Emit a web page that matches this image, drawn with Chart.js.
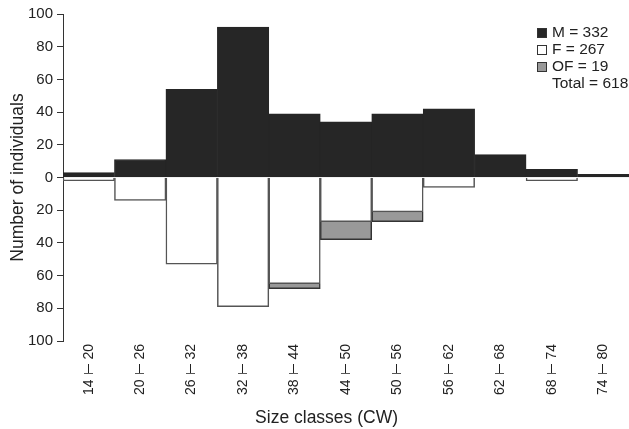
<!DOCTYPE html>
<html>
<head>
<meta charset="utf-8">
<script src="https://cdn.jsdelivr.net/npm/chart.js@4.4.1/dist/chart.umd.min.js"></script>
<style>
  html, body { margin: 0; padding: 0; background: #fff; }
  #wrap { width: 629px; height: 429px; }
</style>
</head>
<body>
<div id="wrap"><canvas id="chart" width="629" height="429"></canvas></div>
<script>
const sizeLabels = ['14 ⊢ 20', '20 ⊢ 26', '26 ⊢ 32', '32 ⊢ 38', '38 ⊢ 44', '44 ⊢ 50', '50 ⊢ 56', '56 ⊢ 62', '62 ⊢ 68', '68 ⊢ 74', '74 ⊢ 80'];
const males = [3, 11, 54, 92, 39, 34, 39, 42, 14, 5, 2];
const females = [2, 14, 53, 79, 65, 27, 21, 6, 0, 2, 0];
const ovigerous = [0, 0, 0, 0, 3, 11, 6, 0, 0, 0, 0];
const yTicks = [-100, -80, -60, -40, -20, 0, 20, 40, 60, 80, 100];
const seriesNames = ['M', 'F', 'OF'];
const seriesTotals = [332, 267, 19];
const grandTotal = 618;

const FONT = '"Liberation Sans", Arial, sans-serif';
const INK = '#222';

// legend drawn inside the plot, top right
const boxLegend = {
    id: 'boxLegend',
    afterDraw(chart) {
        const c = chart.ctx;
        const fills = ['#262626', '#ffffff', '#999999'];
        const x = 537, y0 = 33, step = 17;
        c.save();
        c.font = '15.5px ' + FONT;
        c.textBaseline = 'middle';
        c.textAlign = 'left';
        seriesNames.forEach((name, i) => {
            const y = y0 + i * step;
            c.fillStyle = fills[i];
            c.fillRect(x, y - 5, 10, 10);
            c.strokeStyle = '#333';
            c.lineWidth = 1;
            c.strokeRect(x + 0.5, y - 4.5, 9, 9);
            c.fillStyle = INK;
            c.fillText(name + ' = ' + seriesTotals[i], x + 15, y);
        });
        c.fillStyle = INK;
        c.fillText('Total = ' + grandTotal, x + 15, y0 + 3 * step);
        c.restore();
    }
};

new Chart(document.getElementById('chart'), {
    type: 'bar',
    data: {
        labels: sizeLabels,
        datasets: [
            {
                label: 'M',
                data: males,
                backgroundColor: '#262626',
                borderColor: '#262626',
                borderWidth: 1,
                borderSkipped: false
            },
            {
                label: 'F',
                data: females.map(v => -v),
                backgroundColor: '#ffffff',
                borderColor: '#555555',
                borderWidth: 1.5
            },
            {
                label: 'OF',
                data: ovigerous.map(v => -v),
                backgroundColor: '#999999',
                borderColor: '#333333',
                borderWidth: 1.5
            }
        ]
    },
    options: {
        responsive: false,
        animation: false,
        layout: { padding: { top: 14, right: 0, left: 0, bottom: 0 } },
        datasets: { bar: { categoryPercentage: 1, barPercentage: 1 } },
        plugins: {
            legend: { display: false },
            tooltip: { enabled: false }
        },
        scales: {
            x: {
                stacked: true,
                afterFit: (scale) => { scale.height = 88; },
                grid: { display: false, tickLength: 3 },
                border: { display: false },
                ticks: {
                    autoSkip: false,
                    minRotation: 90,
                    maxRotation: 90,
                    padding: 0,
                    color: INK,
                    font: { family: FONT, size: 14 }
                },
                title: {
                    display: true,
                    // trailing spaces pull the centred title a little left, as in the original
                    text: 'Size classes (CW)\u00a0\u00a0\u00a0\u00a0\u00a0\u00a0\u00a0\u00a0',
                    color: INK,
                    font: { family: FONT, size: 17.5 },
                    padding: { top: 0, bottom: 0 }
                }
            },
            y: {
                stacked: true,
                min: -100,
                max: 100,
                afterBuildTicks: (scale) => {
                    scale.ticks = yTicks.map(v => ({ value: v }));
                },
                afterFit: (scale) => { scale.width = 63; },
                grid: {
                    drawOnChartArea: false,
                    drawTicks: true,
                    tickLength: 6,
                    color: '#333'
                },
                border: { display: true, color: '#333', width: 1 },
                ticks: {
                    padding: 4,
                    color: INK,
                    font: { family: FONT, size: 15 },
                    callback: (v) => Math.abs(v)
                },
                title: {
                    display: true,
                    text: 'Number of individuals',
                    color: INK,
                    font: { family: FONT, size: 17.5 },
                    padding: { top: 8, bottom: 0 }
                }
            }
        }
    },
    plugins: [boxLegend]
});
</script>
</body>
</html>
